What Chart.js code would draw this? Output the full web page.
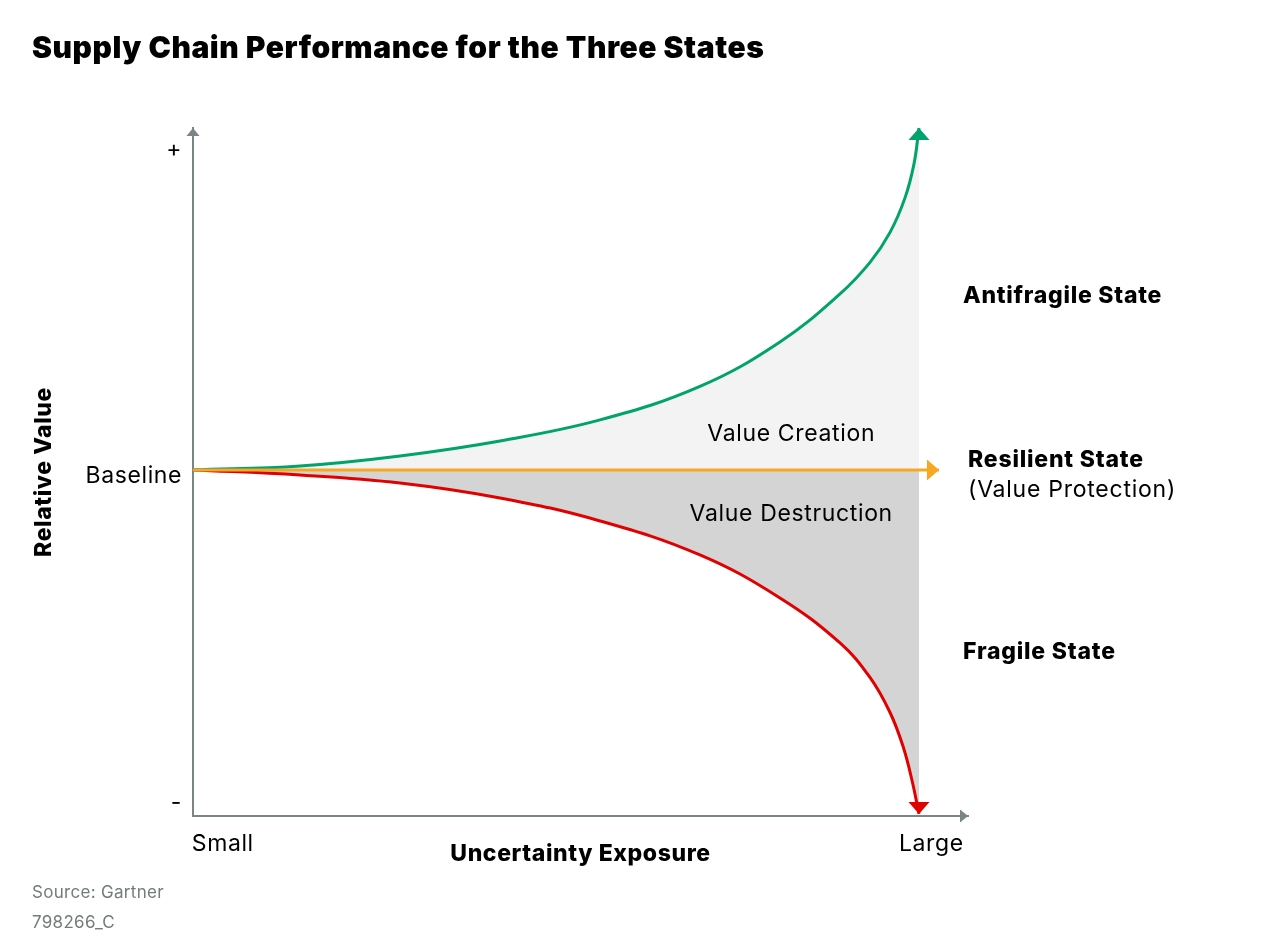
<!DOCTYPE html>
<html>
<head>
<meta charset="utf-8">
<script src="https://cdn.jsdelivr.net/npm/chart.js@4/dist/chart.umd.min.js"></script>
<style>
  html, body { margin: 0; padding: 0; background: #fff; }
  #wrap { position: relative; width: 1280px; height: 949px; overflow: hidden; }
  #c { position: absolute; left: 0; top: 0; }
  .t { position: absolute; font-family: Inter, "Noto Sans", sans-serif; white-space: nowrap; line-height: 1; }
  #title { left: 32px; top: 32px; font-size: 30px; font-weight: 900; color: #000; letter-spacing: 0.55px; }
  #src { left: 32px; top: 884px; font-size: 17px; color: #737b7b; letter-spacing: 0.3px; }
  #code { left: 32px; top: 914px; font-size: 17px; color: #737b7b; letter-spacing: 0.3px; }
</style>
</head>
<body>
<div id="wrap">
  <canvas id="c" width="1280" height="949"></canvas>
  <div class="t" id="title">Supply Chain Performance for the Three States</div>
  <div class="t" id="src">Source: Gartner</div>
  <div class="t" id="code">798266_C</div>
</div>
<script>
// ---- data (x: uncertainty exposure 0..100, y: relative value, 0 = baseline) ----
const xAntifragile = [0, 14.74, 28.51, 42.29, 56.06, 69.83, 80.85, 89.12, 93.25, 96.01, 98.07, 99.31, 100];
const antifragile  = [0, 1.16, 4.05, 8.38, 14.45, 24.13, 36.99, 50.87, 59.97, 68.64, 78.61, 88.44, 98.8];
const xFragile     = [0, 14.74, 28.51, 42.29, 56.06, 69.83, 80.85, 89.12, 93.25, 96.01, 97.80, 99.04, 100];
const fragile      = [0, -1.45, -3.76, -8.09, -14.74, -24.57, -36.99, -50.0, -59.97, -70.09, -79.86, -89.74, -99.4];
const xResilient   = [0, 102.75];
const resilient    = [0, 0];

const yTickValues = [-94.5, 0, 94.2];
const yTickLabels = ['-', 'Baseline', '+'];
const xTickValues = [4.1, 101.7];
const xTickLabels = ['Small', 'Large'];

const annotationTexts = ['Value Creation', 'Value Destruction', 'Antifragile State', 'Resilient State', '(Value Protection)', 'Fragile State'];
const annotationX     = [82.4, 82.4, 106.06, 106.75, 106.75, 106.06];
const annotationY     = [10.4, -12.7, 50.3, 2.9, -5.8, -52.6];

// ---- styles ----
const FONT = 'Inter, "Noto Sans", sans-serif';
const AXIS = '#7c8585';
const GREEN = '#00a36c';
const RED = '#e10000';
const ORANGE = '#f6a823';
const annotationStyle = [
  {weight: '400', align: 'center', spacing: '0.65px'}, {weight: '400', align: 'center', spacing: '0.65px'},
  {weight: '800', align: 'left', spacing: '0.75px'}, {weight: '800', align: 'left', spacing: '0.8px'},
  {weight: '400', align: 'left', spacing: '0.75px'}, {weight: '800', align: 'left', spacing: '0.8px'}
];

const pts = (xs, ys) => xs.map((x, i) => ({x: x, y: ys[i]}));

function drawHead(ctx, x, y, dir, color, len, half) {
  ctx.fillStyle = color;
  ctx.beginPath();
  if (dir === 'up') { ctx.moveTo(x, y); ctx.lineTo(x - half, y + len); ctx.lineTo(x + half, y + len); }
  else if (dir === 'down') { ctx.moveTo(x, y); ctx.lineTo(x - half, y - len); ctx.lineTo(x + half, y - len); }
  else { ctx.moveTo(x, y); ctx.lineTo(x - len, y - half); ctx.lineTo(x - len, y + half); }
  ctx.closePath();
  ctx.fill();
}

const spacingPlugin = {
  id: 'spacing',
  beforeLayout(chart) { chart.ctx.letterSpacing = '0.6px'; },
  beforeDraw(chart) { chart.ctx.letterSpacing = '0.6px'; }
};

const arrowPlugin = {
  id: 'arrows',
  afterDraw(chart) {
    const ctx = chart.ctx;
    const ca = chart.chartArea;
    ctx.save();
    drawHead(ctx, ca.left, ca.top, 'up', AXIS, 8, 6.5);
    drawHead(ctx, ca.right, ca.bottom, 'right', AXIS, 8, 6.5);
    chart.data.datasets.forEach((ds, i) => {
      if (!ds.arrow) return;
      const meta = chart.getDatasetMeta(i);
      const p = meta.data[meta.data.length - 1];
      drawHead(ctx, p.x, p.y, ds.arrow, ds.borderColor, 12, 10.5);
    });
    const xs = chart.scales.x, ys = chart.scales.y;
    ctx.textBaseline = 'middle';
    ctx.fillStyle = '#000';
    annotationTexts.forEach((t, i) => {
      const st = annotationStyle[i];
      ctx.font = st.weight + ' 23px ' + FONT;
      ctx.letterSpacing = st.spacing;
      ctx.textAlign = st.align;
      ctx.fillText(t, xs.getPixelForValue(annotationX[i]), ys.getPixelForValue(annotationY[i]));
    });
    ctx.restore();
  }
};

new Chart(document.getElementById('c'), {
  type: 'line',
  data: {
    datasets: [
      { label: 'Resilient State', data: pts(xResilient, resilient), borderColor: ORANGE, borderWidth: 3,
        pointRadius: 0, fill: false, arrow: 'right', borderCapStyle: 'butt' },
      { label: 'Antifragile State', data: pts(xAntifragile, antifragile), borderColor: GREEN, borderWidth: 3,
        pointRadius: 0, tension: 0.4, fill: {value: 0}, backgroundColor: '#f3f3f3', arrow: 'up' },
      { label: 'Fragile State', data: pts(xFragile, fragile), borderColor: RED, borderWidth: 3,
        pointRadius: 0, tension: 0.4, fill: {value: 0}, backgroundColor: '#d4d4d4', arrow: 'down' }
    ]
  },
  options: {
    responsive: false,
    animation: false,
    events: [],
    layout: { padding: { top: 128, right: 312, left: 0, bottom: 0 } },
    clip: false,
    plugins: {
      legend: { display: false },
      tooltip: { enabled: false },
      filler: { drawTime: 'beforeDatasetsDraw' }
    },
    scales: {
      x: {
        type: 'linear', min: 0, max: 106.75,
        afterFit(s) { s.height = 133; },
        afterBuildTicks(s) { s.ticks = xTickValues.map(v => ({value: v})); },
        ticks: { callback: (v, i) => xTickLabels[i], autoSkip: false, maxRotation: 0, color: '#000',
                 font: { family: FONT, size: 23 }, padding: 14 },
        grid: { display: false, drawTicks: false },
        border: { display: true, color: AXIS, width: 2 },
        title: { display: true, text: 'Uncertainty Exposure', color: '#000',
                 font: { family: FONT, size: 23, weight: '800' }, padding: { top: 0, bottom: 81 } }
      },
      y: {
        type: 'linear', min: -100, max: 98.8,
        afterFit(s) { s.width = 193; },
        afterBuildTicks(s) { s.ticks = yTickValues.map(v => ({value: v})); },
        ticks: { callback: (v, i) => yTickLabels[i], autoSkip: false, color: '#000',
                 font: { family: FONT, size: 23 }, padding: 11, labelOffset: 6 },
        grid: { display: false, drawTicks: false },
        border: { display: true, color: AXIS, width: 2 },
        title: { display: true, text: 'Relative Value', color: '#000',
                 font: { family: FONT, size: 23, weight: '800' }, padding: { top: 30, bottom: 0 } }
      }
    }
  },
  plugins: [spacingPlugin, arrowPlugin]
});
</script>
</body>
</html>
